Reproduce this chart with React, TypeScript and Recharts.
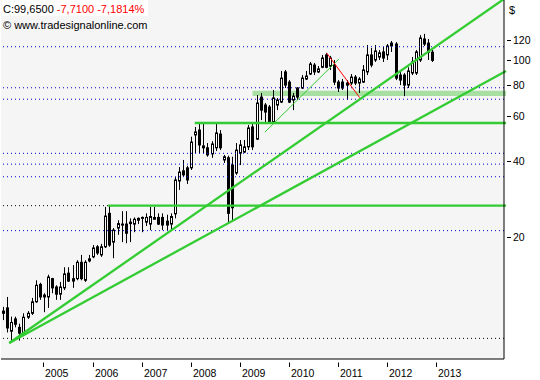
import React from 'react';
import {
  ComposedChart,
  Bar,
  XAxis,
  YAxis,
  ReferenceLine,
  ReferenceArea,
  CartesianGrid,
} from 'recharts';

// ---------- data (monthly candles, first candle = March 2004) ----------
const startYear = 2004;
const startMonth = 3;
const padMonths = 17; // empty months to the right of the last candle

const opens = [
  10.2, 10.5, 8.5, 9.5, 8.8, 8.35, 9.65, 10.0, 11.1, 13.0,
  11.6, 11.6, 13.7, 12.7, 11.9, 12.6, 14.4, 13.4, 13.7, 15.9,
  13.5, 16.1, 16.7, 18.3, 17.0, 18.3, 24.8, 19.1, 21.7, 22.3,
  22.5, 22.6, 22.5, 23.3, 23.7, 22.9, 22.5, 23.5, 23.9, 23.9,
  23.1, 22.5, 24.7, 33.3, 36.5, 37.5, 37.5, 50.6, 52.9, 45.0,
  45.0, 42.6, 45.0, 51.0, 40.3, 41.1, 38.5, 35.8, 42.9, 43.3,
  45.4, 54.4, 48.7, 71.4, 66.4, 65.2, 56.9, 66.4, 68.2, 89.7,
  81.8, 69.5, 77.5, 77.5, 84.1, 88.0, 95.5, 89.7, 93.6, 104.7,
  94.6, 95.5, 81.8, 81.8, 81.1, 81.1, 85.6, 81.1, 81.8, 89.7,
  104.7, 100.0, 102.7, 107.6, 104.7, 116.6, 115.6, 87.2, 87.2, 79.6,
  88.8, 88.8, 100.0, 121.0, 116.6, 107.36,
];
const highs = [
  10.6, 11.6, 9.7, 9.7, 9.1, 10.0, 10.2, 11.5, 13.5, 13.2,
  12.0, 14.2, 13.8, 12.9, 13.3, 15.2, 15.2, 15.5, 16.2, 17.0,
  16.2, 17.0, 18.6, 18.6, 18.8, 26.3, 26.6, 21.7, 23.3, 25.3,
  25.3, 23.7, 23.9, 23.9, 24.1, 24.8, 26.3, 26.3, 24.8, 24.8,
  24.5, 24.8, 34.5, 37.8, 40.3, 38.2, 49.8, 54.4, 56.3, 56.3,
  47.0, 47.8, 56.3, 52.9, 42.2, 41.9, 41.5, 47.0, 48.3, 48.3,
  55.4, 56.3, 72.7, 74.1, 67.6, 66.4, 76.1, 70.8, 90.5, 91.3,
  83.3, 74.1, 78.2, 87.2, 90.5, 98.2, 97.3, 94.6, 104.7, 106.7,
  103.8, 100.0, 83.3, 84.1, 83.3, 88.0, 87.2, 85.6, 95.5, 114.6,
  111.5, 114.6, 109.5, 112.5, 115.6, 118.8, 117.7, 91.3, 88.8, 93.6,
  102.7, 109.5, 125.4, 126.8, 121.0, 109.5,
];
const lows = [
  9.4, 8.4, 7.8, 8.8, 7.8, 8.2, 9.5, 9.85, 11.0, 11.3,
  10.1, 10.5, 12.0, 11.3, 11.3, 12.35, 13.3, 12.6, 13.5, 13.5,
  13.3, 15.9, 16.5, 17.0, 16.7, 18.1, 18.3, 16.5, 20.4, 19.1,
  18.9, 19.1, 20.9, 22.5, 20.9, 22.1, 21.3, 23.5, 22.3, 21.3,
  21.3, 21.3, 23.7, 30.7, 34.6, 32.4, 36.8, 42.9, 42.9, 42.9,
  41.5, 41.1, 43.7, 44.1, 39.2, 22.9, 23.1, 35.2, 38.5, 42.9,
  44.1, 44.1, 48.3, 57.9, 56.9, 56.4, 56.4, 63.4, 67.6, 77.5,
  67.6, 63.4, 69.5, 76.8, 83.3, 87.2, 87.2, 88.8, 92.8, 92.8,
  91.3, 79.6, 74.8, 76.1, 69.5, 79.6, 79.6, 74.1, 81.1, 87.2,
  93.6, 98.2, 100.0, 98.2, 100.0, 107.6, 83.3, 79.6, 72.0, 77.5,
  87.2, 87.2, 98.2, 113.6, 100.0, 98.2,
];
const closes = [
  10.0, 8.75, 9.2, 9.05, 8.35, 9.65, 10.0, 11.1, 12.9, 11.6,
  11.8, 13.9, 12.6, 11.9, 12.7, 14.3, 13.4, 13.7, 15.9, 13.7,
  15.9, 16.4, 18.1, 17.3, 18.3, 24.2, 18.6, 21.3, 22.6, 22.5,
  20.7, 22.9, 23.5, 23.7, 23.9, 23.9, 24.1, 23.9, 22.5, 22.3,
  22.3, 24.1, 33.6, 36.1, 35.2, 33.6, 47.4, 52.0, 46.2, 45.8,
  42.2, 46.6, 51.5, 45.0, 41.5, 24.8, 26.1, 44.1, 46.2, 45.4,
  53.9, 45.4, 67.6, 63.4, 62.3, 56.9, 70.8, 69.5, 84.8, 79.6,
  68.2, 72.0, 71.4, 84.8, 86.4, 96.4, 89.7, 92.2, 101.8, 93.6,
  101.8, 81.8, 77.5, 77.5, 79.6, 85.6, 81.1, 84.1, 91.3, 104.7,
  95.5, 108.5, 106.7, 101.8, 113.6, 113.6, 84.8, 83.3, 79.6, 90.5,
  98.2, 107.6, 122.1, 115.6, 107.36, 99.65,
];

const yearTicks = ['2005', '2006', '2007', '2008', '2009', '2010', '2011', '2012', '2013'];
const priceTicks = [20, 40, 60, 80, 100, 120];
const priceDomain = [6.6, 172.5];

// horizontal levels
const blueDotLevels = [112.8, 77.7, 70.0, 42.8, 38.8, 34.6, 21.2];
const blackDotLevels = [26.6, 7.96];
// green support lines: start month index, price
const greenLevelStarts = [26, 47];
const greenLevelValues = [26.6, 56.4];
// light green band
const bandStart = 61;
const bandLow = 72.1;
const bandHigh = 75.6;
// trend lines: [x1, y1, x2, y2] in (month index, price)
const trendLines = [
  [2, 7.63, 122.5, 176.4],
  [2, 7.63, 122.5, 90.4],
];
const thinGreenLine = [64, 51.9, 82, 101.0];
const redLine = [79, 106.5, 87, 71.0];

// ---------- build table ----------
const total = opens.length + padMonths;
const data = Array.from({ length: total }, (_, i) => {
  const m = startMonth - 1 + i;
  const year = startYear + Math.floor(m / 12);
  const month = (m % 12) + 1;
  const key = `${year}-${String(month).padStart(2, '0')}`;
  if (i < opens.length) {
    return {
      month: key,
      o: opens[i],
      h: highs[i],
      l: lows[i],
      c: closes[i],
      range: [lows[i], highs[i]],
    };
  }
  return { month: key, range: null };
});

const lastClose = closes[closes.length - 1];
const prevClose = closes[closes.length - 2];
const change = lastClose - prevClose;
const pct = (change / prevClose) * 100;
const fmt = (v: number) => v.toFixed(4).replace('.', ',');

const FONT = '"Liberation Sans", Arial, sans-serif';

const Candle = (props: any) => {
  const { x, y, width, height, payload } = props;
  if (!payload || payload.o == null || !isFinite(y) || !isFinite(height) || height <= 0) return null;
  const { o, h, l, c } = payload;
  const lh = Math.log(h);
  const ll = Math.log(l);
  const pos = (v: number) => y + (height * (lh - Math.log(v))) / (lh - ll);
  const cx = x + width / 2;
  const left = Math.round(cx - 1.5);
  const mid = left + 1.5;
  const yo = pos(o);
  const yc = pos(c);
  const top = Math.min(yo, yc);
  const bot = Math.max(yo, yc);
  const up = c >= o;
  return (
    <g>
      <line x1={mid} x2={mid} y1={y} y2={y + height} stroke="#000" strokeWidth={1} />
      <rect
        x={left + 0.5}
        y={top}
        width={2}
        height={Math.max(bot - top, 0.5)}
        fill={up ? '#ffffff' : '#000000'}
        stroke="#000"
        strokeWidth={1}
      />
    </g>
  );
};

const XTick = (props: any) => {
  const { x, y, payload } = props;
  const v: string = String(payload.value);
  const yr = v.slice(0, 4);
  if (!v.endsWith('-01') || !yearTicks.includes(yr)) return <g />;
  const tx = Math.floor(x) + 0.5;
  return (
    <g>
      <line x1={tx} x2={tx} y1={y + 3.5} y2={y + 8} stroke="#000" strokeWidth={1} />
      <text x={tx + 1.5} y={y + 18} fontSize={10.5} fontFamily={FONT} fill="#000">
        {yr}
      </text>
    </g>
  );
};

const YTick = (props: any) => {
  const { x, y, payload } = props;
  const ty = Math.round(y) + 0.5;
  return (
    <g>
      <line x1={x + 3} x2={x + 7} y1={ty} y2={ty} stroke="#000" strokeWidth={1} />
      <text x={x + 9} y={y + 4} fontSize={10.5} fontFamily={FONT} fill="#000">
        {payload.value}
      </text>
    </g>
  );
};

const DollarLabel = (props: any) => {
  const vb = props.viewBox || { x: 504, y: 0 };
  return (
    <text x={vb.x + 5} y={vb.y + 13.5} fontSize={11} fontFamily={FONT} fill="#000">
      $
    </text>
  );
};

const GREEN = '#33cc33';

export default function App() {
  return (
    <div style={{ position: 'absolute', left: 0, top: 0, width: 540, height: 380, background: '#fff' }}>
      <ComposedChart
        width={540}
        height={380}
        data={data}
        margin={{ top: 0, right: 0, bottom: 0, left: 1 }}
        style={{ fontFamily: FONT }}
      >
        <CartesianGrid fill="#f5f5f5" horizontal={false} vertical={false} stroke="none" />
        <XAxis
          dataKey="month"
          type="category"
          interval={0}
          height={21}
          tickSize={0}
          tickMargin={0}
          tickLine={false}
          axisLine={{ stroke: '#000' }}
          tick={<XTick />}
        />
        <XAxis
          xAxisId="n"
          type="number"
          domain={[-0.5, total - 0.5]}
          allowDataOverflow
          hide
        />
        <YAxis
          orientation="right"
          scale="log"
          type="number"
          domain={priceDomain}
          allowDataOverflow
          ticks={priceTicks}
          interval={0}
          width={36}
          tickSize={0}
          tickMargin={0}
          tickLine={false}
          axisLine={{ stroke: '#000' }}
          tick={<YTick />}
          label={<DollarLabel />}
        />

        <ReferenceArea
          xAxisId="n"
          x1={bandStart}
          x2={total - 0.5}
          y1={bandLow}
          y2={bandHigh}
          fill="#a8e0a4"
          fillOpacity={1}
          stroke="none"
          ifOverflow="visible"
        />
        {blueDotLevels.map((v) => (
          <ReferenceLine
            key={`b${v}`}
            y={v}
            stroke="#0000cc"
            strokeWidth={1}
            strokeDasharray="1 3"
            ifOverflow="visible"
          />
        ))}
        {blackDotLevels.map((v) => (
          <ReferenceLine
            key={`k${v}`}
            y={v}
            stroke="#000"
            strokeWidth={1}
            strokeDasharray="1 3"
            ifOverflow="visible"
          />
        ))}

        <Bar dataKey="range" barSize={3} shape={<Candle />} isAnimationActive={false} />

        {greenLevelStarts.map((s, i) => (
          <ReferenceLine
            key={`g${i}`}
            xAxisId="n"
            segment={[
              { x: s, y: greenLevelValues[i] },
              { x: total - 0.5, y: greenLevelValues[i] },
            ]}
            stroke={GREEN}
            strokeWidth={2.3}
            ifOverflow="visible"
          />
        ))}
        {trendLines.map((t, i) => (
          <ReferenceLine
            key={`t${i}`}
            xAxisId="n"
            segment={[
              { x: t[0], y: t[1] },
              { x: t[2], y: t[3] },
            ]}
            stroke={GREEN}
            strokeWidth={2.3}
            ifOverflow="visible"
          />
        ))}
        <ReferenceLine
          xAxisId="n"
          segment={[
            { x: thinGreenLine[0], y: thinGreenLine[1] },
            { x: thinGreenLine[2], y: thinGreenLine[3] },
          ]}
          stroke={GREEN}
          strokeWidth={1}
          ifOverflow="visible"
        />
        <ReferenceLine
          xAxisId="n"
          segment={[
            { x: redLine[0], y: redLine[1] },
            { x: redLine[2], y: redLine[3] },
          ]}
          stroke="#ff0000"
          strokeWidth={1}
          ifOverflow="visible"
        />
        <ReferenceLine xAxisId="n" x={-0.5} stroke="#000" strokeWidth={1} ifOverflow="visible" />
      </ComposedChart>
      <svg style={{ position: 'absolute', left: 0, top: 0 }} width={170} height={34}>
        <rect x={2} y={0} width={146} height={16} fill="#ffffff" />
        <text x={3} y={13} fontSize={11} fontFamily={FONT}>
          <tspan fill="#000">{`C:${fmt(lastClose)} `}</tspan>
          <tspan fill="#ff0000">{`${fmt(change)} ${fmt(pct)}%`}</tspan>
        </text>
        <text x={3} y={29} fontSize={11} fontFamily={FONT} fill="#000">
          © www.tradesignalonline.com
        </text>
      </svg>
    </div>
  );
}
